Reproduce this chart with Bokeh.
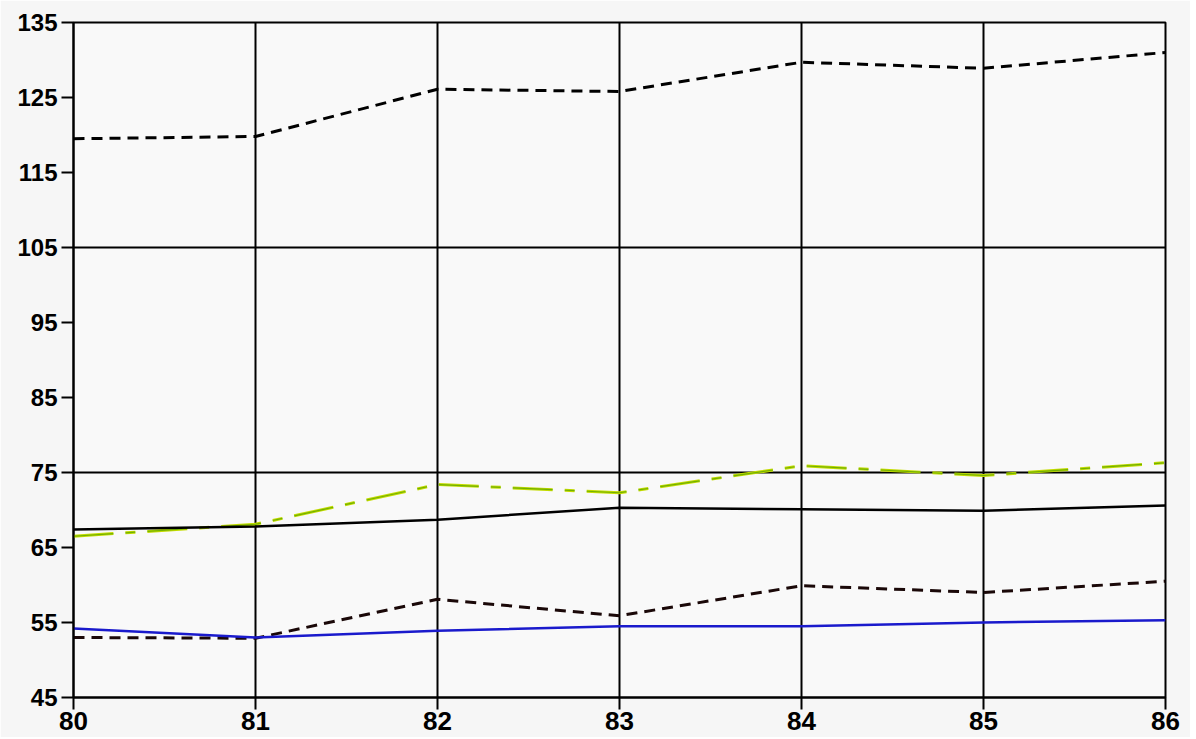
from bokeh.plotting import figure
from bokeh.models import Range1d, FixedTicker
from bokeh.embed import file_html
from bokeh.resources import INLINE

years = [80, 81, 82, 83, 84, 85, 86]
top_dashed = [119.5, 119.8, 126.1, 125.8, 129.7, 128.9, 131.0]
green_dashdot = [66.5, 68.1, 73.4, 72.3, 75.9, 74.6, 76.3]
black_solid = [67.4, 67.8, 68.7, 70.3, 70.1, 69.9, 70.6]
low_dashed = [53.0, 52.9, 58.1, 55.9, 59.9, 59.0, 60.5]
blue_solid = [54.2, 53.0, 53.9, 54.5, 54.5, 55.0, 55.3]
y_ticks = [45, 55, 65, 75, 85, 95, 105, 115, 125, 135]
h_grid = [75, 105]

p = figure(width=1190, height=737, output_backend="svg", toolbar_location=None,
           x_range=Range1d(80, 86), y_range=Range1d(45, 135),
           min_border_left=73, min_border_right=25, min_border_top=22, min_border_bottom=40)
p.background_fill_color = "#f9f9f9"
p.border_fill_color = "#f6f6f6"
p.outline_line_color = "black"
p.outline_line_width = 2

p.xaxis.ticker = FixedTicker(ticks=years)
p.yaxis.ticker = FixedTicker(ticks=y_ticks)
p.xgrid.ticker = FixedTicker(ticks=years)
p.ygrid.ticker = FixedTicker(ticks=h_grid)
for g in (p.xgrid, p.ygrid):
    g.grid_line_color = "black"
    g.grid_line_width = 2
    g.grid_line_alpha = 1.0

for ax in (p.xaxis, p.yaxis):
    ax.axis_line_color = "black"
    ax.axis_line_width = 2
    ax.major_tick_line_color = "black"
    ax.major_tick_line_width = 2
    ax.major_tick_in = 0
    ax.major_tick_out = 12
    ax.minor_tick_line_color = None
    ax.major_label_text_font = "Liberation Sans"
    ax.major_label_text_font_style = "bold"
    ax.major_label_text_color = "black"
p.yaxis.major_label_text_font_size = "24px"
p.xaxis.major_label_text_font_size = "26px"
p.yaxis.major_label_standoff = 4
p.xaxis.major_label_standoff = 2

p.line(years, top_dashed, line_color="black", line_width=3, line_dash="11 7")
p.line(years, green_dashdot, line_color="#c4dc00", line_width=3, line_dash="40 12 10 12")
p.line(years, green_dashdot, line_color="#3c9400", line_width=1.2, line_dash="40 12 10 12", line_alpha=0.6)
p.line(years, black_solid, line_color="black", line_width=2.5)
p.line(years, low_dashed, line_color="#1a0808", line_width=3, line_dash="11 7")
p.line(years, blue_solid, line_color="#1a1acc", line_width=2.5)

open("out.html", "w").write(file_html(p, INLINE))
